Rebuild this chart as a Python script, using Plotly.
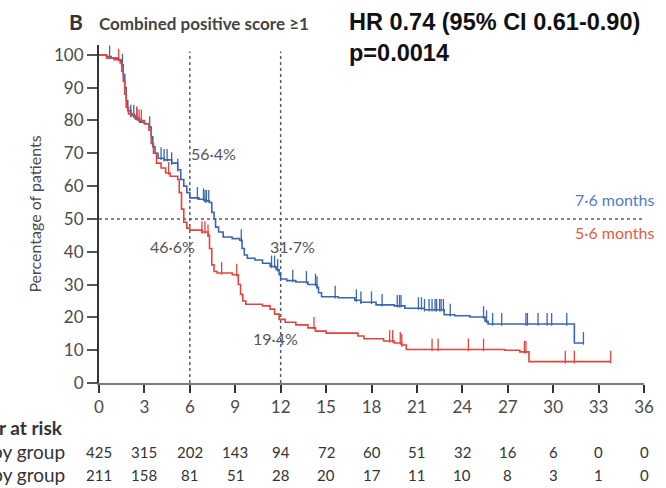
import numpy as np
import plotly.graph_objects as go

# Kaplan-Meier step data (months, percentage progression-free)
pembro_t = [0, 0.5, 0.8, 1.3, 1.5, 1.6, 1.7, 1.8, 1.9, 2.1, 2.4, 2.7, 3.0, 3.3, 3.45, 3.55,
            3.7, 3.9, 4.3, 4.8, 5.2, 5.4, 5.6, 5.8, 6.0, 6.6, 7.0, 7.3, 7.45, 7.6, 7.7, 7.9,
            8.2, 8.8, 9.3, 9.45, 9.6, 9.8, 10.3, 10.8, 11.3, 11.7, 11.9, 12.0, 12.4, 13.0,
            13.8, 14.4, 14.5, 14.7, 15.8, 16.9, 17.3, 18.3, 19.5, 20.2, 21.5, 22.8, 23.5,
            24.5, 25.5, 25.7, 31.4, 32.0]
pembro_s = [100, 99.5, 99, 98.5, 97, 94, 90, 86, 83, 81.5, 80.5, 79.5, 79, 78, 75, 72,
            70, 68.5, 68, 67, 65, 62, 60, 58, 56.4, 56, 55.5, 55, 52, 50, 47.5, 46,
            44.5, 44, 43.5, 41, 39, 38, 37.5, 36.5, 35.5, 34.5, 33, 31.7, 31.2, 30.8,
            30, 29.2, 27.5, 26.3, 26, 25.2, 24.6, 23.8, 23.5, 22.8, 22.3, 20.8, 20.5,
            20.1, 18.8, 18, 12.2, 12.2]
pembro_censor = [0.7, 1.55, 2.1, 2.3, 2.5, 3.35, 4.1, 4.3, 4.5, 4.8, 5.2, 6.5, 6.9, 7.0,
                 7.1, 7.25, 9.4, 11.4, 11.6, 11.8, 12.8, 13.7, 14.3, 14.4, 15.6, 17.0,
                 17.3, 18.0, 18.7, 19.7, 19.85, 19.95, 21.1, 21.3, 21.5, 21.8, 22.0, 22.2,
                 22.3, 22.5, 22.6, 22.75, 23.2, 25.4, 25.6, 26.0, 26.6, 28.2, 28.3, 29.0,
                 29.6, 29.9, 30.9, 32.0]

placebo_t = [0, 0.5, 1.0, 1.4, 1.5, 1.6, 1.7, 1.8, 1.95, 2.3, 2.6, 3.0, 3.3, 3.45, 3.6,
             3.8, 4.1, 4.4, 4.7, 5.2, 5.3, 5.45, 5.6, 5.8, 6.0, 6.8, 7.2, 7.3, 7.45, 7.6,
             7.8, 8.8, 9.2, 9.35, 9.5, 9.7, 10.8, 11.3, 11.6, 11.9, 12.3, 13.0, 13.8, 14.3,
             15.0, 17.1, 17.5, 18.8, 19.5, 20.0, 20.3, 26.8, 27.8, 28.4, 33.8]
placebo_s = [100, 99, 98.5, 97.5, 95, 92, 88, 84, 82, 81, 80, 79, 77, 73, 70,
             67, 65.5, 64, 63, 62, 58, 53, 49, 47.2, 46.6, 46, 45, 41, 36, 34,
             33.5, 33, 30, 27, 25, 24, 23.5, 22.5, 21, 19.4, 18.5, 17.7, 16.8, 15.8,
             15.2, 14.3, 13.5, 12.8, 12.2, 11.6, 10.2, 10, 9.5, 6.5, 6.5]
placebo_censor = [1.3, 2.5, 2.65, 2.8, 4.6, 6.8, 7.0, 7.2, 8.1, 9.1, 14.2, 19.2, 19.4,
                  19.9, 20.0, 22.0, 22.4, 24.4, 25.4, 28.1, 28.2, 30.8, 31.4, 33.8]

# Number at risk table
risk_times = [0, 3, 6, 9, 12, 15, 18, 21, 24, 27, 30, 33, 36]
pembro_risk = [425, 315, 202, 143, 94, 72, 60, 51, 32, 16, 6, 0, 0]
placebo_risk = [211, 158, 81, 51, 28, 20, 17, 11, 10, 8, 3, 1, 0]
group_names = ["Pembrolizumab–chemotherapy group", "Placebo–chemotherapy group"]

x_ticks = list(range(0, 37, 3))
y_ticks = list(range(0, 101, 10))
landmarks = [6, 12]

BLUE = "#3a67b0"
RED = "#e2453b"
BLUE_TXT = "#4f7cc4"
RED_TXT = "#e85a45"
GUIDE = "#4d5f6c"
TXT = "#4a4a4a"
FONT = "Lato, 'Open Sans', sans-serif"


def surv_at(ts, ss, t):
    idx = np.searchsorted(np.asarray(ts), np.asarray(t), side="right") - 1
    return np.asarray(ss)[idx]


def median_of(ts, ss):
    for t, s in zip(ts, ss):
        if s <= 50:
            return t
    return None


def fmt(v, suffix=""):
    return f"{v:.1f}".replace(".", "·") + suffix


fig = go.Figure()

for ts, ss, cens, col in [(pembro_t, pembro_s, pembro_censor, BLUE),
                          (placebo_t, placebo_s, placebo_censor, RED)]:
    fig.add_trace(go.Scatter(x=ts, y=ss, mode="lines", line=dict(color=col, width=1.6, shape="hv"),
                             showlegend=False, hoverinfo="skip"))
    cy = surv_at(ts, ss, cens) + 1.4
    fig.add_trace(go.Scatter(x=cens, y=cy, mode="markers",
                             marker=dict(symbol="line-ns", size=9,
                                         line=dict(color=col, width=1.3)),
                             showlegend=False, hoverinfo="skip"))

# Guide lines at landmarks and median
guide = dict(color=GUIDE, width=1.5, dash="3px,3px")
for lm in landmarks:
    fig.add_shape(type="line", xref="x", yref="y", x0=lm, x1=lm, y0=0, y1=101, line=guide,
                  layer="below")
fig.add_shape(type="line", xref="x", yref="y", x0=0, x1=36, y0=50, y1=50, line=guide,
              layer="below")

# Landmark labels
pb6, pb12 = surv_at(pembro_t, pembro_s, landmarks)
pl6, pl12 = surv_at(placebo_t, placebo_s, landmarks)
lab_font = dict(family=FONT, size=16, color="#555555")
fig.add_annotation(x=5.95, y=70, text=fmt(pb6, "%"), showarrow=False, xanchor="left",
                   font=lab_font)
fig.add_annotation(x=6.5, y=41.5, text=fmt(pl6, "%"), showarrow=False, xanchor="right",
                   font=lab_font)
fig.add_annotation(x=11.15, y=41.5, text=fmt(pb12, "%"), showarrow=False, xanchor="left",
                   font=lab_font)
fig.add_annotation(x=10.05, y=13.7, text=fmt(pl12, "%"), showarrow=False, xanchor="left",
                   font=lab_font)

# Median labels
fig.add_annotation(x=1.0, xref="paper", xshift=13, y=56, text=fmt(median_of(pembro_t, pembro_s), " months"),
                   showarrow=False, xanchor="right", font=dict(family=FONT, size=16, color=BLUE_TXT))
fig.add_annotation(x=1.0, xref="paper", xshift=13, y=45.8, text=fmt(median_of(placebo_t, placebo_s), " months"),
                   showarrow=False, xanchor="right", font=dict(family=FONT, size=16, color=RED_TXT))

# Panel title and statistics
fig.add_annotation(x=-0.059, y=1.069, xref="paper", yref="paper", text="<b>B</b>", showarrow=False,
                   xanchor="left", yanchor="middle", font=dict(family=FONT, size=21, color="#333333"))
fig.add_annotation(x=-0.004, y=1.064, xref="paper", yref="paper", text="<b>Combined positive score ≥1</b>",
                   showarrow=False, xanchor="left", yanchor="middle",
                   font=dict(family=FONT, size=17, color="#444444"))
hr_font = dict(family="'Liberation Sans', Arial, sans-serif", size=23.5, color="#111111")
fig.add_annotation(x=0.455, y=1.067, xref="paper", yref="paper", text="<b>HR 0.74 (95% CI 0.61-0.90)</b>",
                   showarrow=False, xanchor="left", yanchor="middle", font=hr_font)
fig.add_annotation(x=0.455, y=0.976, xref="paper", yref="paper", text="<b>p=0.0014</b>",
                   showarrow=False, xanchor="left", yanchor="middle", font=hr_font)

# Number at risk table
head_font = dict(family=FONT, size=19, color="#333333")
lbl_font = dict(family=FONT, size=19, color="#333333")
num_font = dict(family=FONT, size=15, color="#333333")
fig.add_annotation(x=-0.063, y=-0.133, xref="paper", yref="paper", text="<b>Number at risk</b>",
                   showarrow=False, xanchor="right", yanchor="middle", font=head_font)
for name, counts, yp in [(group_names[0], pembro_risk, -0.204), (group_names[1], placebo_risk, -0.272)]:
    fig.add_annotation(x=-0.059, y=yp, xref="paper", yref="paper", text=name, showarrow=False,
                       xanchor="right", yanchor="middle", font=lbl_font)
    for t, n in zip(risk_times, counts):
        fig.add_annotation(x=t, y=yp, xref="x", yref="paper", text=str(n), showarrow=False,
                           xanchor="center", yanchor="middle", font=num_font)

fig.update_xaxes(range=[0, 36], tickvals=x_ticks, ticks="outside", ticklen=8, tickwidth=2,
                 tickcolor="#333333", showline=True, linecolor="#7a7a7a", linewidth=2,
                 showgrid=False, zeroline=False, tickfont=dict(family=FONT, size=17, color=TXT))
fig.update_yaxes(range=[0, 103], tickvals=y_ticks, ticks="outside", ticklen=10, tickwidth=2,
                 tickcolor="#555555", showline=True, linecolor="#333333", linewidth=2,
                 showgrid=False, zeroline=False, tickfont=dict(family=FONT, size=17, color=TXT),
                 title=dict(text="Percentage of patients", font=dict(family=FONT, size=16, color=TXT),
                            standoff=8))

fig.update_layout(width=666, height=488, margin=dict(l=99, r=12, t=45, b=105),
                  paper_bgcolor="white", plot_bgcolor="white")

fig.write_html("out.html")
